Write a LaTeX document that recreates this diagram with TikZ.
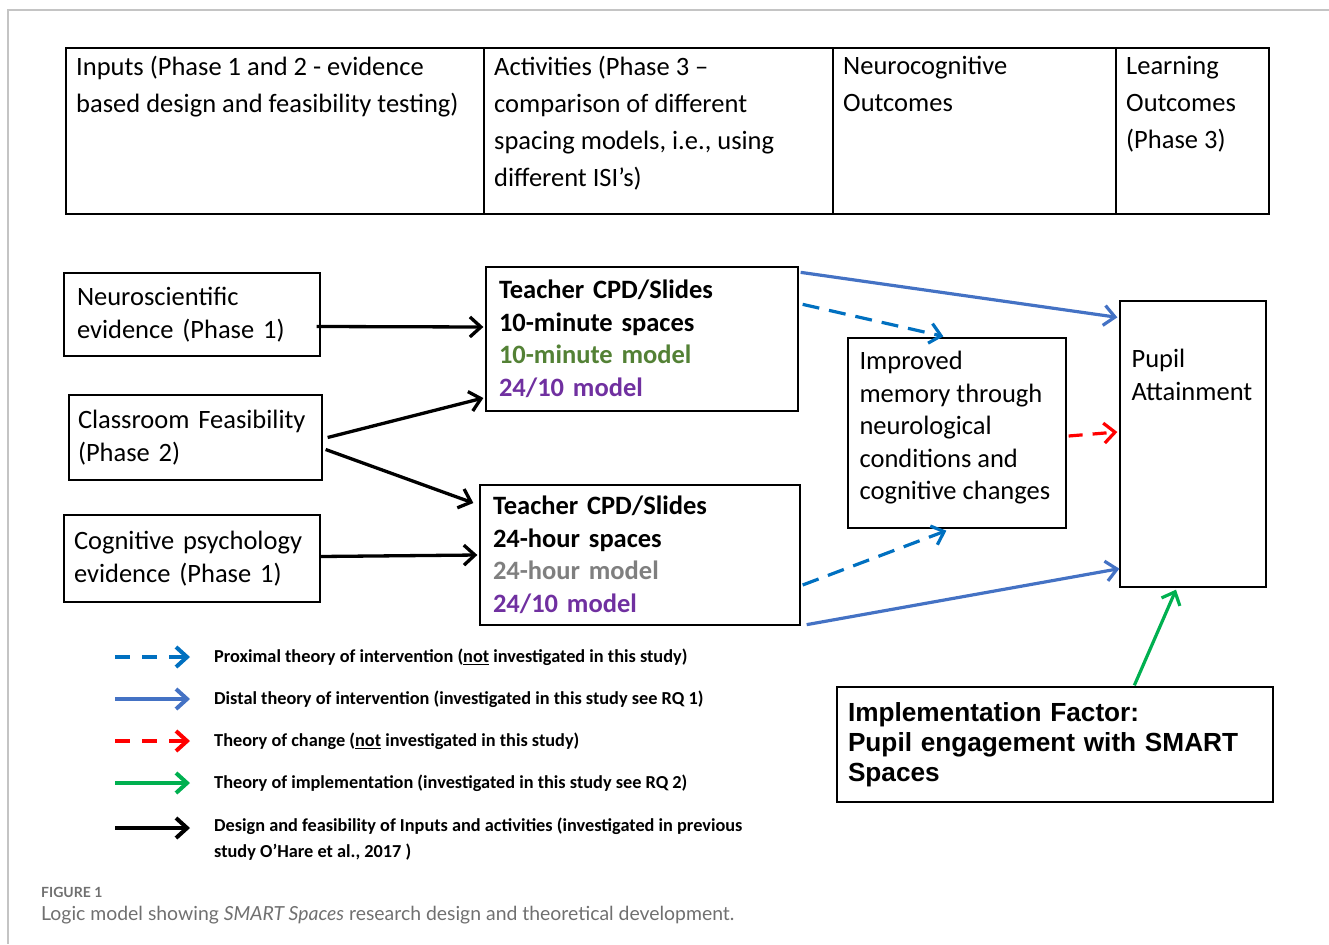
\documentclass[tikz,border=0pt]{standalone}
\usepackage{fontspec}
\setmainfont{Carlito}
\newfontfamily\arialfont{Liberation Sans}
\newfontfamily\capfont{Lato}
\usetikzlibrary{arrows.meta, positioning, calc}

\definecolor{distal}{HTML}{4472C4}
\definecolor{proximal}{HTML}{0070C0}
\definecolor{change}{HTML}{FF0000}
\definecolor{implem}{HTML}{00B050}
\definecolor{tenmin}{HTML}{538135}
\definecolor{mixed}{HTML}{7030A0}
\definecolor{dayhr}{HTML}{7F7F7F}
\definecolor{capgray}{HTML}{707070}
\definecolor{framegray}{HTML}{C4C4C4}

\newcommand{\bigfont}{\fontsize{26.5}{37}\selectfont}
\newcommand{\boxfont}{\fontsize{26.5}{32.5}\selectfont}
\newcommand{\keyfont}{\fontsize{18.3}{26}\selectfont\bfseries}

\tikzset{
  cell/.style={draw, line width=1.3, anchor=north west, minimum height=166, inner sep=0, outer sep=0},
  ctext/.style={anchor=north west, align=left, inner xsep=10, inner ysep=8, font=\bigfont},
  box/.style={draw, line width=1.3, align=left, font=\boxfont, inner ysep=4},
  key/.style={anchor=west, align=left, inner sep=0, font=\keyfont},
  tip/.style={-{Straight Barb[length=11pt,width=20pt]}},
  blk/.style={tip, line width=3.3},
  dist/.style={tip, line width=3.2, distal},
  prox/.style={tip, line width=3.2, proximal, dash pattern=on 17pt off 10pt},
  chg/.style={tip, line width=3.2, change, dash pattern=on 14pt off 10pt},
  impl/.style={tip, line width=3.2, implem}
}

\begin{document}
\begin{tikzpicture}[x=1pt, y=-1pt]
\useasboundingbox (0,0) rectangle (1329,944);
\draw[framegray, line width=2] (1329,10) -- (8,10) -- (8,944);

% header table
\node[cell, minimum width=418, label={[ctext]north west:{Inputs (Phase 1 and 2 - evidence\\based design and feasibility testing)}}] (inputs) at (66,48) {};
\node[cell, minimum width=349, label={[ctext]north west:{Activities (Phase 3 –\\comparison of different\\spacing models, i.e., using\\different ISI’s)}}] (acts) at (inputs.north east) {};
\node[cell, minimum width=283, label={[ctext]north west:{Neurocognitive\\Outcomes}}] (neuroout) at (acts.north east) {};
\node[cell, minimum width=153, label={[ctext]north west:{Learning\\Outcomes\\(Phase 3)}}] (learnout) at (neuroout.north east) {};

% inputs
\node[box, text width=230, inner xsep=13, minimum height=83] (neuro) at (192,314.5) {Neuroscientific\\evidence (Phase 1)};
\node[box, text width=235, inner xsep=9, minimum height=85] (cls) at (195.5,437.5) {Classroom Feasibility\\(Phase 2)};
\node[box, text width=236, inner xsep=10, minimum height=87] (cog) at (192,558.5) {Cognitive psychology\\evidence (Phase 1)};

% activities
\node[box, font=\boxfont\bfseries, text width=286, inner xsep=13, minimum height=144] (t1) at (642,339)
  {Teacher CPD/Slides\\10-minute spaces\\\textcolor{tenmin}{10-minute model}\\\textcolor{mixed}{24/10 model}};
\node[box, font=\boxfont\bfseries, text width=294, inner xsep=13, minimum height=140] (t2) at (640,555)
  {Teacher CPD/Slides\\24-hour spaces\\\textcolor{dayhr}{24-hour model}\\\textcolor{mixed}{24/10 model}};

% outcomes
\node[box, minimum width=218, minimum height=190, inner sep=0,
  label={[ctext, font=\boxfont, inner xsep=12, inner ysep=14]north west:{Improved\\memory through\\neurological\\conditions and\\cognitive changes}}] (impr) at (957,433) {};
\node[box, minimum width=146, minimum height=286, inner sep=0,
  label={[ctext, font=\boxfont, inner xsep=12, inner ysep=49]north west:{Pupil\\Attainment}}] (pupil) at (1193,444) {};
\node[box, font=\arialfont\bfseries\fontsize{26.2}{30}\selectfont, text width=414, inner xsep=11, minimum height=115] (factor) at (1055,744.5)
  {Implementation Factor:\\Pupil engagement with SMART\\Spaces};

% connectors
\draw[blk] ($(neuro.east)+(-4,12)$) -- ($(t1.west)+(-2,-12)$);
\draw[blk] ($(cls.east)+(5,0)$) -- ($(t1.west)+(-2,59)$);
\draw[blk] ($(cls.east)+(3,12)$) -- ($(t2.west)+(-6,-52)$);
\draw[blk] ($(cog.east)+(0,-2)$) -- ($(t2.west)+(-2,0)$);
\draw[dist] ($(t1.north east)+(2,6)$) -- ($(pupil.north west)+(-2,17)$);
\draw[dist] ($(t2.south east)+(6,-1)$) -- ($(pupil.south west)+(0,-19)$);
\draw[prox] ($(t1.north east)+(4,38)$) -- ($(impr.north west)+(96,-1)$);
\draw[prox] ($(t2.east)+(2,30)$) -- ($(impr.south west)+(99,2)$);
\draw[chg] ($(impr.east)+(2,3)$) -- ($(pupil.west)+(-2,-12)$);
\draw[impl] ($(factor.north west)+(298,-1)$) -- ($(pupil.south)+(-17,2)$);

% key
\node[key] (k1) at (214,657) {Proximal theory of intervention (\underline{not} investigated in this study)};
\node[key] (k2) at (214,699) {Distal theory of intervention (investigated in this study see RQ 1)};
\node[key] (k3) at (214,741) {Theory of change (\underline{not} investigated in this study)};
\node[key] (k4) at (214,783) {Theory of implementation (investigated in this study see RQ 2)};
\node[key] (k5) at (214,839) {Design and feasibility of Inputs and activities (investigated in previous\\study O’Hare et al., 2017 )};
\draw[prox, line width=4, dash pattern=on 15pt off 12pt] ($(k1.west)+(-99,0)$) -- ($(k1.west)+(-24,0)$);
\draw[dist, line width=4] ($(k2.west)+(-99,0)$) -- ($(k2.west)+(-24,0)$);
\draw[chg, line width=4, dash pattern=on 15pt off 12pt] ($(k3.west)+(-99,0)$) -- ($(k3.west)+(-24,0)$);
\draw[impl, line width=4] ($(k4.west)+(-99,0)$) -- ($(k4.west)+(-24,0)$);
\draw[blk, line width=4] ($(k5.west)+(-99,-11)$) -- ($(k5.west)+(-24,-11)$);

% caption
\node[anchor=west, inner sep=0, text=capgray, font=\capfont\bfseries\fontsize{14}{16}\selectfont] (fig) at (41,892) {FIGURE 1};
\node[anchor=west, inner sep=0, text=capgray, font=\capfont\fontsize{19.4}{22}\selectfont] (cap) at (41,915)
  {Logic model showing \textit{SMART Spaces} research design and theoretical development.};
\end{tikzpicture}
\end{document}
